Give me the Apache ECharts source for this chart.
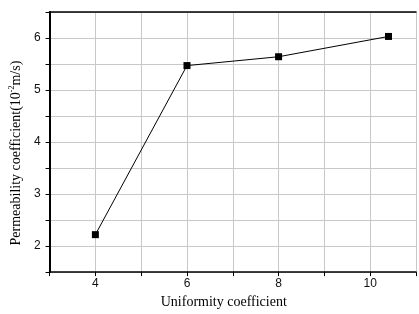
<!DOCTYPE html>
<html>
<head>
<meta charset="utf-8">
<script src="https://cdn.jsdelivr.net/npm/echarts@6/dist/echarts.min.js"></script>
<style>
  html, body { margin: 0; padding: 0; background: #fff; }
  #chart { width: 419px; height: 314px; }
</style>
</head>
<body>
<div id="chart"></div>
<script>
// uniformity coefficient vs permeability coefficient
var uniformity = [4, 6, 8, 10.4]
var permeability = [2.22, 5.47, 5.64, 6.03]
var xLabels = [4, 6, 8, 10]
var yLabels = [2, 3, 4, 5, 6]

var chart = echarts.init(document.getElementById('chart'))
var points = uniformity.map(function(x, i) { return [x, permeability[i]] })

chart.setOption({
  backgroundColor: '#fff',
  animation: false,
  grid: { left: 47, top: 12, width: 374, height: 264 },
  xAxis: [{
    type: 'value',
    min: 3,
    max: 11,
    interval: 1,
    name: 'Uniformity coefficient',
    nameLocation: 'middle',
    nameGap: 20,
    nameTextStyle: { fontFamily: 'Liberation Serif', fontSize: 14, color: '#000', padding: [0, 18, 0, 0] },
    axisLine: { lineStyle: { color: '#000', width: 1.5 } },
    axisTick: { inside: false, length: 4, lineStyle: { color: '#000' } },
    axisLabel: {
      fontFamily: 'Liberation Sans', fontSize: 12, color: '#111', margin: 6,
      formatter: function(v) { return xLabels.indexOf(v) >= 0 ? String(v) : '' }
    },
    splitLine: { show: true, lineStyle: { color: '#c8c8c8', width: 1 } }
  }, {
    type: 'value',
    position: 'top',
    min: 3,
    max: 11,
    axisLine: { show: true, onZero: false, lineStyle: { color: '#000', width: 1.5 } },
    axisTick: { show: false },
    axisLabel: { show: false },
    splitLine: { show: false }
  }],
  yAxis: {
    type: 'value',
    min: 1.5,
    max: 6.5,
    interval: 0.5,
    name: '{a|Permeability coefficient(10}{s|-2}{a|m/s)}',
    nameLocation: 'middle',
    nameGap: 24,
    nameTextStyle: {
      padding: [0, 22, 0, 0],
      rich: {
        a: { fontFamily: 'Liberation Serif', fontSize: 14, color: '#000' },
        s: { fontFamily: 'Liberation Serif', fontSize: 8, color: '#000', verticalAlign: 'top', padding: [0, 0, 8, 0] }
      }
    },
    axisLine: { show: true, lineStyle: { color: '#000', width: 2 } },
    axisTick: { inside: false, length: 4, lineStyle: { color: '#000' } },
    axisLabel: {
      fontFamily: 'Liberation Sans', fontSize: 12, color: '#111', margin: 9,
      formatter: function(v) { return yLabels.indexOf(v) >= 0 ? String(v) : '' }
    },
    splitLine: { show: true, lineStyle: { color: '#c8c8c8', width: 1 } }
  },
  series: [{
    type: 'line',
    data: points,
    symbol: 'rect',
    symbolSize: 7,
    itemStyle: { color: '#000' },
    lineStyle: { color: '#000', width: 1 }
  }]
})
</script>
</body>
</html>
